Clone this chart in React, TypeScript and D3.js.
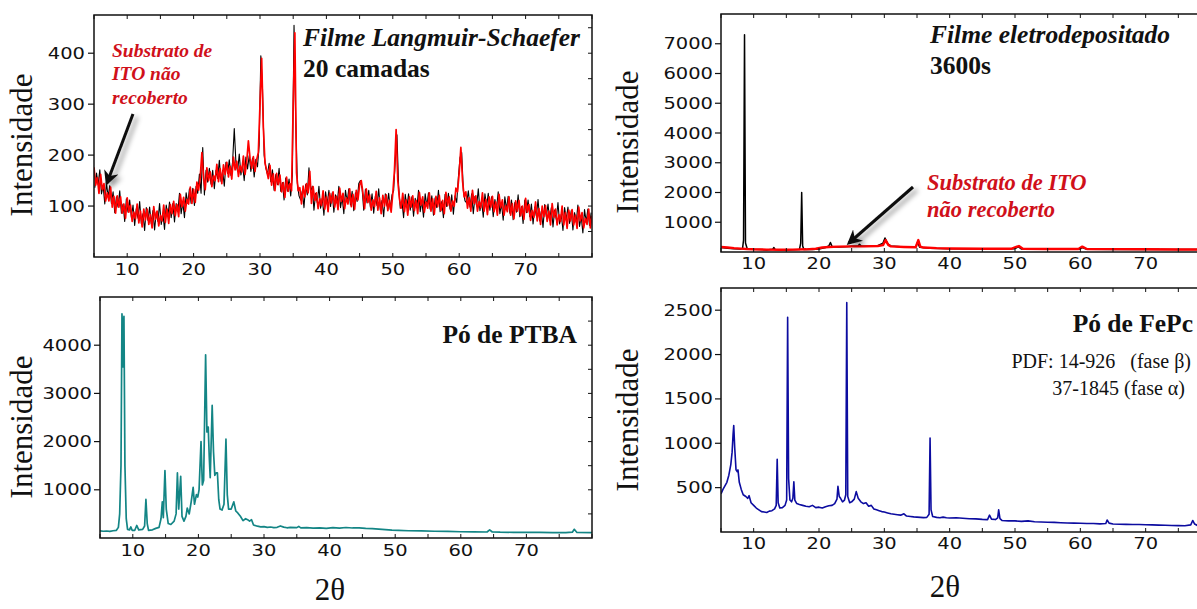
import React from 'react';
import * as d3 from 'd3';

// ---- Angular axis shared by all four diffractograms ----
const TWO_THETA_DOMAIN: [number, number] = [5, 80];
const xTickValues = [10, 20, 30, 40, 50, 60, 70];
const xMinorValues = [5, 10, 15, 20, 25, 30, 35, 40, 45, 50, 55, 60, 65, 70, 75, 80];

// ---- Langmuir-Schaefer panel: uniform 0.25° scans ----
const LS_STEP = 0.25;
const lsSubstrateStart = 5.0;
const lsSubstrate = [
  176, 141, 156, 125, 162, 132, 144, 110, 126, 110, 137, 98, 119, 86, 120, 98,
  118, 86, 104, 76, 116, 88, 102, 70, 88, 75, 104, 67, 90, 59, 94, 73,
  94, 64, 83, 57, 99, 74, 90, 61, 82, 71, 102, 68, 94, 66, 103, 85,
  109, 81, 103, 79, 123, 99, 117, 90, 113, 104, 137, 105, 133, 107, 147, 131,
  157, 205, 156, 132, 175, 150, 167, 138, 160, 150, 182, 148, 173, 144, 181, 162,
  186, 157, 178, 153, 196, 171, 188, 158, 179, 167, 198, 162, 187, 228, 194, 174,
  197, 168, 191, 205, 300, 390, 255, 185, 170, 154, 180, 141, 163, 130, 164, 142,
  161, 128, 146, 117, 157, 129, 144, 130, 300, 440, 165, 130, 136, 104, 139, 118,
  144, 126, 168, 105, 138, 111, 126, 95, 114, 101, 130, 94, 118, 89, 125, 106,
  128, 98, 119, 93, 135, 109, 125, 95, 116, 104, 134, 99, 123, 94, 131, 112,
  141, 150, 126, 95, 134, 107, 122, 92, 112, 99, 129, 92, 116, 85, 121, 100,
  122, 91, 111, 88, 125, 170, 250, 150, 114, 96, 125, 89, 112, 82, 118, 98,
  120, 91, 111, 85, 127, 102, 118, 88, 108, 96, 126, 90, 114, 84, 119, 99,
  121, 91, 111, 85, 127, 101, 118, 90, 110, 100, 135, 128, 165, 215, 150, 118,
  128, 96, 116, 90, 131, 105, 120, 90, 109, 97, 126, 90, 113, 83, 118, 98,
  119, 89, 108, 82, 123, 97, 112, 82, 101, 89, 118, 82, 105, 75, 110, 90,
  111, 81, 100, 74, 115, 88, 103, 72, 91, 78, 108, 71, 95, 64, 100, 79,
  101, 70, 90, 63, 105, 78, 94, 63, 83, 70, 100, 63, 87, 56, 92, 71,
  93, 63, 82, 56, 98, 71, 87, 57, 76, 64, 94, 57, 81,
];

const lsFilmStart = 5.125;
const lsFilm = [
  136, 165, 142, 171, 124, 140, 104, 146, 118, 140, 105, 128, 87, 118, 98, 130,
  86, 104, 70, 114, 88, 112, 78, 102, 62, 95, 76, 109, 66, 85, 52, 97,
  72, 98, 65, 91, 53, 88, 70, 105, 64, 85, 54, 102, 80, 108, 77, 105,
  69, 105, 89, 125, 85, 107, 77, 126, 105, 134, 105, 135, 101, 139, 125, 163,
  125, 215, 122, 170, 147, 174, 143, 170, 134, 170, 154, 190, 149, 170, 139, 186,
  164, 191, 160, 187, 252, 185, 168, 202, 161, 181, 150, 196, 173, 199, 168, 194,
  157, 192, 177, 220, 395, 330, 200, 175, 162, 184, 148, 171, 131, 162, 142, 174,
  129, 146, 112, 155, 129, 153, 120, 160, 455, 270, 145, 120, 112, 130, 97, 142,
  122, 175, 128, 139, 92, 125, 106, 139, 96, 115, 82, 128, 104, 131, 99, 126,
  88, 122, 105, 139, 97, 117, 85, 131, 108, 134, 102, 129, 91, 126, 109, 144,
  150, 134, 92, 133, 106, 131, 98, 124, 86, 119, 101, 134, 92, 111, 79, 124,
  100, 125, 93, 122, 130, 190, 240, 140, 96, 110, 77, 123, 98, 124, 92, 118,
  80, 115, 97, 131, 89, 110, 78, 124, 100, 126, 94, 120, 82, 116, 97, 131,
  89, 109, 77, 123, 99, 125, 94, 122, 84, 120, 107, 156, 195, 205, 130, 110,
  106, 130, 98, 124, 85, 119, 100, 134, 91, 111, 78, 124, 99, 125, 92, 118,
  79, 113, 94, 128, 85, 105, 72, 118, 93, 119, 86, 112, 73, 107, 88, 122,
  79, 99, 66, 112, 87, 112, 79, 104, 65, 98, 80, 113, 71, 90, 58, 103,
  79, 104, 72, 97, 59, 92, 74, 107, 65, 84, 52, 97, 73, 98, 66, 91,
  53, 87, 68, 102, 60, 79, 47, 93, 68, 94, 62, 87,
];

// ---- Electrodeposited film (3600 s) and bare ITO: [2θ, counts] ----
const edFilm: [number, number][] = [
  [5, 150], [6, 130], [7, 110], [8, 100], [8.3, 120], [8.45, 400], [8.6, 7300], [8.75, 300],
  [9, 120], [10, 90], [11, 80], [12, 70], [12.9, 90], [13.1, 150], [13.3, 80], [15, 70],
  [16, 75], [17, 80], [17.2, 300], [17.35, 2000], [17.5, 200], [17.7, 80], [19, 80], [20, 100],
  [21, 150], [21.5, 200], [21.75, 320], [22, 180], [23, 170], [24, 180], [25, 190], [26, 200],
  [26.2, 260], [26.5, 190], [28, 200], [29, 210], [29.8, 300], [30.1, 470], [30.5, 280], [31, 200],
  [33, 170], [34.8, 170], [35.1, 330], [35.4, 160], [37, 130], [40, 110], [45, 100], [50, 110],
  [50.5, 180], [51, 100], [55, 90], [60, 100], [60.3, 150], [61, 90], [65, 85], [70, 80],
  [72, 90], [72.3, 80], [75, 80], [80, 80],
];
const edSubstrate: [number, number][] = [
  [5, 170], [6, 150], [7, 130], [8, 115], [9, 100], [10, 90], [12, 80], [14, 75],
  [16, 80], [18, 90], [19.5, 110], [20.5, 150], [21.5, 170], [23, 180], [25, 190], [27, 190],
  [29, 200], [29.8, 230], [30.2, 400], [30.6, 240], [31, 190], [33, 170], [34.8, 160], [35.2, 400],
  [35.5, 180], [36, 150], [38, 130], [40, 120], [45, 110], [49.5, 110], [50.3, 180], [50.6, 200],
  [51.2, 110], [55, 100], [59.7, 100], [60.3, 180], [61, 100], [65, 95], [70, 90], [75, 85], [80, 85],
];

// ---- PTBA powder: [2θ, counts] ----
const ptbaPowder: [number, number][] = [
  [5, 150], [5.5, 140], [6, 145], [6.5, 138], [7, 150], [7.5, 160], [7.8, 220], [8.0, 500],
  [8.2, 1500], [8.35, 4650], [8.45, 4300], [8.5, 3550], [8.55, 4300], [8.65, 4600], [8.8, 1500], [9.0, 400],
  [9.2, 180], [9.5, 170], [9.7, 230], [9.9, 160], [10.3, 160], [10.6, 260], [10.9, 170], [11.5, 180],
  [11.8, 250], [12.0, 800], [12.2, 300], [12.4, 160], [13, 170], [13.5, 200], [14, 220], [14.3, 400],
  [14.5, 750], [14.65, 420], [14.9, 1400], [15.1, 600], [15.4, 300], [15.8, 280], [16.3, 350], [16.6, 500],
  [16.8, 1350], [17.0, 600], [17.3, 1280], [17.5, 450], [17.8, 350], [18.1, 450], [18.3, 620], [18.6, 500],
  [18.9, 750], [19.2, 1050], [19.4, 700], [19.7, 900], [19.9, 850], [20.1, 1000], [20.4, 2000], [20.6, 1100],
  [20.8, 1200], [21.1, 3800], [21.3, 2200], [21.5, 2300], [21.65, 1700], [21.8, 1250], [22.1, 2750], [22.3, 1800],
  [22.5, 1300], [22.7, 1350], [22.9, 1350], [23.1, 800], [23.3, 600], [23.6, 580], [23.9, 700], [24.2, 2050],
  [24.4, 900], [24.6, 600], [25.0, 600], [25.4, 750], [25.7, 560], [26.0, 520], [26.4, 450], [26.8, 360],
  [27.2, 400], [27.5, 380], [27.8, 350], [28.1, 380], [28.4, 270], [29, 245], [29.5, 232], [30, 235],
  [30.5, 220], [31, 228], [31.5, 215], [32, 222], [32.5, 250], [33, 225], [33.5, 212], [34, 220],
  [35, 215], [35.3, 240], [35.6, 210], [36.5, 215], [37.5, 205], [38.5, 212], [39.5, 200], [40.5, 215],
  [41.5, 205], [42.5, 218], [43.5, 208], [44.5, 212], [45.5, 200], [46.5, 195], [47.5, 185], [48.5, 175],
  [49.5, 165], [50.5, 160], [52, 150], [54, 146], [56, 140], [58, 136], [60, 130], [62, 127],
  [64, 125], [64.4, 170], [64.8, 125], [66, 120], [68, 118], [70, 115], [72, 115], [74, 112],
  [76, 110], [77.0, 120], [77.3, 180], [77.7, 115], [80, 110],
];

// ---- FePc powder: [2θ, counts] ----
const fepcPowder: [number, number][] = [
  [5, 430], [5.3, 480], [5.6, 520], [5.9, 560], [6.2, 640], [6.5, 760], [6.7, 900], [6.85, 1100],
  [6.95, 1200], [7.1, 950], [7.3, 700], [7.5, 680], [7.6, 700], [7.8, 560], [8.1, 480], [8.4, 420],
  [8.8, 400], [9.1, 380], [9.3, 410], [9.6, 330], [10, 300], [10.4, 270], [10.8, 250], [11.2, 230],
  [11.6, 225], [12, 220], [12.4, 235], [12.8, 240], [13.2, 260], [13.45, 300], [13.6, 820], [13.75, 330],
  [14, 270], [14.4, 275], [14.8, 300], [15.05, 360], [15.2, 2420], [15.35, 600], [15.55, 360], [15.8, 340],
  [16.0, 380], [16.15, 565], [16.3, 360], [16.6, 320], [17, 310], [17.5, 300], [18, 290], [18.5, 285],
  [19, 300], [19.5, 275], [20, 280], [20.5, 270], [21, 285], [21.5, 295], [22, 300], [22.4, 320],
  [22.75, 370], [22.9, 515], [23.1, 400], [23.3, 380], [23.6, 340], [23.9, 360], [24.1, 420], [24.25, 2585],
  [24.4, 400], [24.7, 330], [25.0, 340], [25.4, 370], [25.7, 455], [26.0, 380], [26.4, 340], [26.8, 320],
  [27.2, 330], [27.6, 290], [28, 300], [28.4, 260], [28.8, 250], [29.2, 240], [29.6, 230], [30, 225],
  [30.5, 215], [31, 205], [31.5, 200], [32, 195], [32.5, 190], [33, 205], [33.4, 180], [34, 175],
  [34.5, 170], [35, 168], [35.5, 165], [36, 162], [36.5, 165], [36.85, 200], [37.0, 1060], [37.15, 250],
  [37.4, 175], [38, 165], [38.5, 160], [39, 168], [39.5, 160], [40, 158], [41, 160], [42, 155],
  [43, 150], [44, 148], [45, 142], [45.8, 140], [46.1, 190], [46.4, 145], [47, 140], [47.35, 160],
  [47.5, 250], [47.7, 150], [48, 130], [49, 125], [50, 125], [51, 120], [52, 125], [53, 115],
  [54, 112], [55, 110], [56, 108], [57, 105], [58, 102], [59, 100], [60, 98], [61, 95],
  [62, 95], [63, 92], [63.9, 95], [64.1, 135], [64.4, 100], [65, 90], [66, 88], [67, 86],
  [68, 85], [69, 84], [70, 82], [71, 80], [72, 78], [73, 76], [74, 74], [75, 72],
  [76, 70], [76.9, 80], [77.2, 130], [77.5, 90], [78, 70], [80, 68],
];

// ---- Intensity tick labels ----
const lsYTicks = [100, 200, 300, 400];
const edYTicks = [1000, 2000, 3000, 4000, 5000, 6000, 7000];
const ptbaYTicks = [1000, 2000, 3000, 4000];
const fepcYTicks = [500, 1000, 1500, 2000, 2500];

const toPairs = (start: number, step: number, values: number[]): [number, number][] =>
  values.map((v, i) => [start + i * step, v]);

type Series = { points: [number, number][]; color: string; width: number };
type Frame = { left: number; right: number; top: number; bottom: number };

const TICK_FONT = '"DejaVu Sans", Verdana, sans-serif';
const SERIF = '"Liberation Serif", "Times New Roman", serif';

function Panel(props: {
  id: string;
  frame: Frame;
  yMax: number;
  yTicks: number[];
  series: Series[];
  xLabelBaseline: number;
  yLabelRight: number;
}) {
  const { id, frame, yMax, yTicks, series, xLabelBaseline, yLabelRight } = props;
  const x = d3.scaleLinear().domain(TWO_THETA_DOMAIN).range([frame.left, frame.right]);
  const y = d3.scaleLinear().domain([0, yMax]).range([frame.bottom, frame.top]);
  const line = d3
    .line<[number, number]>()
    .x((d) => x(d[0]))
    .y((d) => y(d[1]));
  const halfStep = yTicks[1] - yTicks[0];
  const yMinor = d3.range(halfStep / 2, yMax, halfStep / 2);
  return (
    <g>
      <defs>
        <clipPath id={`clip-${id}`}>
          <rect x={frame.left} y={frame.top} width={frame.right - frame.left} height={frame.bottom - frame.top} />
        </clipPath>
      </defs>
      <g clipPath={`url(#clip-${id})`}>
        {series.map((s, i) => (
          <path
            key={i}
            d={line(s.points) ?? ''}
            fill="none"
            stroke={s.color}
            strokeWidth={s.width}
            strokeLinejoin="round"
          />
        ))}
      </g>
      <rect
        x={frame.left}
        y={frame.top}
        width={frame.right - frame.left}
        height={frame.bottom - frame.top}
        fill="none"
        stroke="#111"
        strokeWidth={1.5}
      />
      {/* 2θ ticks on bottom and top edges */}
      {xMinorValues.map((v) => (
        <g key={`xt${v}`} stroke="#111" strokeWidth={1}>
          <line x1={x(v)} x2={x(v)} y1={frame.bottom} y2={frame.bottom - 4} />
          <line x1={x(v)} x2={x(v)} y1={frame.top} y2={frame.top + 4} />
        </g>
      ))}
      {/* intensity ticks: outward on the left, inward on the right */}
      {yTicks.map((v) => (
        <line key={`yl${v}`} x1={frame.left - 6} x2={frame.left} y1={y(v)} y2={y(v)} stroke="#111" strokeWidth={1.2} />
      ))}
      {yMinor.map((v) => (
        <line key={`yr${v}`} x1={frame.right} x2={frame.right - 4} y1={y(v)} y2={y(v)} stroke="#111" strokeWidth={1} />
      ))}
      {xTickValues.map((v) => (
        <text
          key={`xl${v}`}
          transform={`translate(${x(v)},${xLabelBaseline}) scale(1.3,1)`}
          textAnchor="middle"
          fontFamily={TICK_FONT}
          fontSize={15}
          fill="#111"
        >
          {v}
        </text>
      ))}
      {yTicks.map((v) => (
        <text
          key={`ylab${v}`}
          transform={`translate(${yLabelRight},${y(v) + 5.5}) scale(1.3,1)`}
          textAnchor="end"
          fontFamily={TICK_FONT}
          fontSize={15}
          fill="#111"
        >
          {v}
        </text>
      ))}
    </g>
  );
}

function YTitle({ x, y }: { x: number; y: number }) {
  return (
    <text transform={`translate(${x},${y}) rotate(-90)`} textAnchor="middle" fontFamily={SERIF} fontSize={31} fill="#111">
      Intensidade
    </text>
  );
}

export default function App() {
  const red = '#ff0000';
  const noteRed = '#d0101a';
  return (
    <svg
      width={1197}
      height={609}
      viewBox="0 0 1197 609"
      style={{ position: 'absolute', left: 0, top: 0, background: '#fff' }}
    >
      <defs>
        <filter id="arrowShadow" x="-50%" y="-50%" width="200%" height="200%">
          <feDropShadow dx="4" dy="3" stdDeviation="2.5" floodColor="#000" floodOpacity="0.4" />
        </filter>
        <marker id="arrowHead" viewBox="0 0 10 10" refX="8" refY="5" markerWidth="5" markerHeight="5" orient="auto">
          <path d="M0,0 L10,5 L0,10 L3,5 z" fill="#111" />
        </marker>
      </defs>
      <rect width={1197} height={609} fill="#fff" />

      {/* Langmuir-Schaefer film vs bare ITO */}
      <Panel
        id="ls"
        frame={{ left: 94, right: 592, top: 15, bottom: 257 }}
        yMax={475}
        yTicks={lsYTicks}
        series={[
          { points: toPairs(lsFilmStart, LS_STEP, lsFilm), color: '#000', width: 1.1 },
          { points: toPairs(lsSubstrateStart, LS_STEP, lsSubstrate), color: red, width: 1.7 },
        ]}
        xLabelBaseline={275}
        yLabelRight={85}
      />
      <YTitle x={32} y={145} />
      <text x={303} y={46} fontFamily={SERIF} fontSize={25.5} fontWeight="bold" fontStyle="italic" fill="#111">
        Filme Langmuir-Schaefer
      </text>
      <text x={303} y={77} fontFamily={SERIF} fontSize={25.5} fontWeight="bold" fill="#111">
        20 camadas
      </text>
      <g fontFamily={SERIF} fontSize={19.5} fontWeight="bold" fontStyle="italic" fill={noteRed}>
        <text x={112} y={57}>Substrato de</text>
        <text x={112} y={80}>ITO não</text>
        <text x={112} y={104}>recoberto</text>
      </g>
      <line x1={133} y1={114} x2={107} y2={183} stroke="#111" strokeWidth={3} markerEnd="url(#arrowHead)" filter="url(#arrowShadow)" />

      {/* Electrodeposited film vs bare ITO */}
      <Panel
        id="ed"
        frame={{ left: 721, right: 1211, top: 14, bottom: 252 }}
        yMax={8000}
        yTicks={edYTicks}
        series={[
          { points: edFilm, color: '#000', width: 1.5 },
          { points: edSubstrate, color: red, width: 2.4 },
        ]}
        xLabelBaseline={269}
        yLabelRight={713}
      />
      <YTitle x={638} y={142} />
      <text x={930} y={43} fontFamily={SERIF} fontSize={25.5} fontWeight="bold" fontStyle="italic" fill="#111">
        Filme eletrodepositado
      </text>
      <text x={930} y={74} fontFamily={SERIF} fontSize={25.5} fontWeight="bold" fill="#111">
        3600s
      </text>
      <g fontFamily={SERIF} fontSize={22.5} fontWeight="bold" fontStyle="italic" fill={noteRed}>
        <text x={927} y={190}>Substrato de ITO</text>
        <text x={927} y={217}>não recoberto</text>
      </g>
      <line x1={913} y1={187} x2={849} y2={243} stroke="#111" strokeWidth={3} markerEnd="url(#arrowHead)" filter="url(#arrowShadow)" />

      {/* PTBA powder */}
      <Panel
        id="ptba"
        frame={{ left: 100, right: 592, top: 297, bottom: 538 }}
        yMax={5000}
        yTicks={ptbaYTicks}
        series={[{ points: ptbaPowder, color: '#138585', width: 1.7 }]}
        xLabelBaseline={556}
        yLabelRight={92}
      />
      <YTitle x={32} y={427} />
      <text x={577} y={343} textAnchor="end" fontFamily={SERIF} fontSize={25.5} fontWeight="bold" fill="#111">
        Pó de PTBA
      </text>
      <text x={330} y={600} textAnchor="middle" fontFamily={SERIF} fontSize={31} fill="#111">
        2θ
      </text>

      {/* FePc powder */}
      <Panel
        id="fepc"
        frame={{ left: 721, right: 1211, top: 288, bottom: 532 }}
        yMax={2750}
        yTicks={fepcYTicks}
        series={[{ points: fepcPowder, color: '#0c0ca0', width: 1.6 }]}
        xLabelBaseline={549}
        yLabelRight={713}
      />
      <YTitle x={638} y={420} />
      <text x={1193} y={332} textAnchor="end" fontFamily={SERIF} fontSize={25.5} fontWeight="bold" fill="#111">
        Pó de FePc
      </text>
      <text x={1191} y={368} textAnchor="end" fontFamily={SERIF} fontSize={20} fill="#111" xmlSpace="preserve">
        PDF: 14-926   (fase β)
      </text>
      <text x={1185} y={395} textAnchor="end" fontFamily={SERIF} fontSize={20} fill="#111">
        37-1845 (fase α)
      </text>
      <text x={945} y={597} textAnchor="middle" fontFamily={SERIF} fontSize={31} fill="#111">
        2θ
      </text>
    </svg>
  );
}
